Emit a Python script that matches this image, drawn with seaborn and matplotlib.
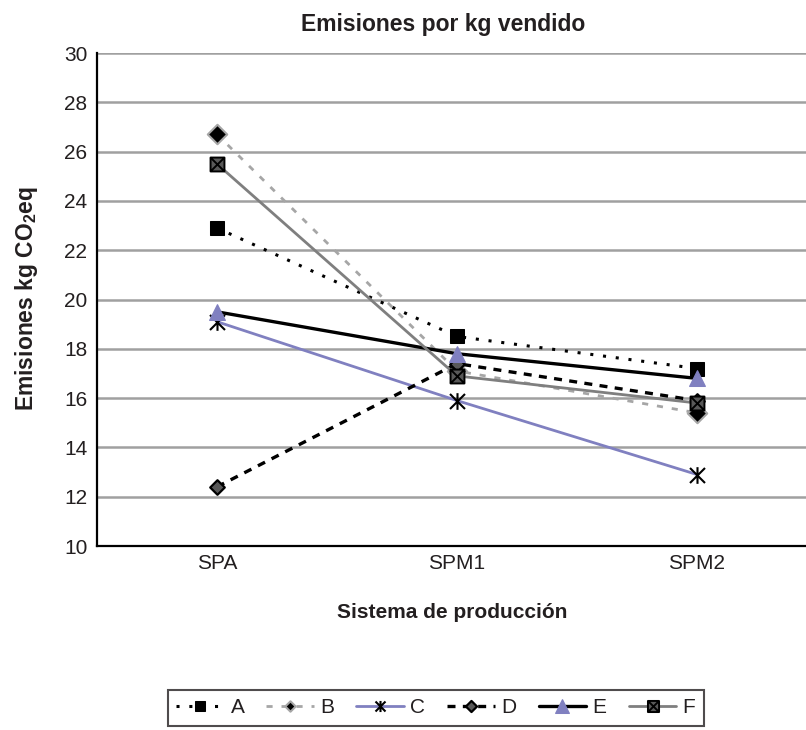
import numpy as np
import pandas as pd
import matplotlib
matplotlib.use("Agg")
import matplotlib.pyplot as plt
from matplotlib.path import Path
import seaborn as sns

categories = ["SPA", "SPM1", "SPM2"]
series_names = ["A", "B", "C", "D", "E", "F"]
A = [22.9, 18.5, 17.2]
B = [26.7, 17.1, 15.4]
C = [19.1, 15.9, 12.9]
D = [12.4, 17.4, 15.9]
E = [19.5, 17.8, 16.8]
F = [25.5, 16.9, 15.8]
yticks = [10, 12, 14, 16, 18, 20, 22, 24, 26, 28, 30]

title = "Emisiones por kg vendido"
xlabel = "Sistema de producción"
ylabel = "Emisiones kg CO$_\\mathregular{2}$eq"

sns.set_theme(style="white")
plt.rcParams["font.family"] = ["Liberation Sans", "DejaVu Sans"]
plt.rcParams["mathtext.fontset"] = "custom"
plt.rcParams["mathtext.rm"] = "Liberation Sans:bold"
plt.rcParams["mathtext.bf"] = "Liberation Sans:bold"

# custom markers
star_path = Path(
    [(0, 0.5), (0, -0.5), (-0.45, 0.45), (0.45, -0.45), (-0.45, -0.45), (0.45, 0.45)],
    [Path.MOVETO, Path.LINETO, Path.MOVETO, Path.LINETO, Path.MOVETO, Path.LINETO],
)
diamond_path = Path(
    [(0, 0.5), (0.5, 0), (0, -0.5), (-0.5, 0), (0, 0.5)],
    [Path.MOVETO, Path.LINETO, Path.LINETO, Path.LINETO, Path.CLOSEPOLY],
)
sqx_path = Path(
    [(-0.5, -0.5), (0.5, -0.5), (0.5, 0.5), (-0.5, 0.5), (-0.5, -0.5),
     (-0.5, -0.5), (0.5, 0.5), (-0.5, 0.5), (0.5, -0.5)],
    [Path.MOVETO, Path.LINETO, Path.LINETO, Path.LINETO, Path.CLOSEPOLY,
     Path.MOVETO, Path.LINETO, Path.MOVETO, Path.LINETO],
)

lav = "#8080C0"
styles = {
    "A": dict(color="black", linestyle=(0, (1, 3.2)), linewidth=2.2, marker="s",
              markersize=9.5, markerfacecolor="black", markeredgecolor="black"),
    "B": dict(color="#A6A6A6", linestyle=(0, (2.2, 3.2)), linewidth=2.0, marker=diamond_path,
              markersize=14, markerfacecolor="black", markeredgecolor="#A6A6A6", markeredgewidth=1.5),
    "C": dict(color=lav, linestyle="-", linewidth=2.0, marker=star_path,
              markersize=12, markerfacecolor="none", markeredgecolor="black", markeredgewidth=1.5),
    "D": dict(color="black", linestyle=(0, (2.4, 2.2)), linewidth=2.4, marker=diamond_path,
              markersize=10.5, markerfacecolor="#595959", markeredgecolor="black", markeredgewidth=1.6),
    "E": dict(color="black", linestyle="-", linewidth=2.4, marker="^",
              markersize=11.5, markerfacecolor=lav, markeredgecolor=lav),
    "F": dict(color="#7F7F7F", linestyle="-", linewidth=2.0, marker=sqx_path,
              markersize=10, markerfacecolor="#595959", markeredgecolor="black", markeredgewidth=1.4),
}
legend_msize = {"A": 7, "B": 7.5, "C": 8, "D": 8, "E": 9.5, "F": 8}

data = {"A": A, "B": B, "C": C, "D": D, "E": E, "F": F}

W, H = 806, 730
fig = plt.figure(figsize=(W / 100, H / 100), dpi=100)
left, right, top, bottom = 97, 817, 53, 546
ax = fig.add_axes([left / W, 1 - bottom / H, (right - left) / W, (bottom - top) / H])
ax.set_clip_on(True)

for name in series_names:
    df = pd.DataFrame({"cat": categories, "val": data[name]})
    sns.lineplot(data=df, x="cat", y="val", ax=ax, label=name, sort=False, **styles[name])

ax.set_xlim(-0.5, 2.5)
ax.set_ylim(10, 30)
ax.set_yticks(yticks)
ax.yaxis.grid(True, color="#A0A0A0", linewidth=1.8)
ax.xaxis.grid(False)
ax.set_axisbelow(True)
for s in ["top", "right"]:
    ax.spines[s].set_visible(False)
for s in ["left", "bottom"]:
    ax.spines[s].set_color("black")
    ax.spines[s].set_linewidth(1.6)
ax.tick_params(axis="y", length=0, labelsize=15, colors="#231F20", pad=7)
ax.tick_params(axis="x", length=0, labelsize=15, colors="#231F20", pad=6)
ax.set_xlabel("")
ax.set_ylabel("")

fig.text(443 / W, 1 - 25 / H, title, ha="center", va="center",
         fontsize=16.5, fontweight="bold", color="#231F20")
fig.text(452 / W, 1 - 612 / H, xlabel, ha="center", va="center",
         fontsize=15, fontweight="bold", color="#231F20")
fig.text(27 / W, 1 - 298 / H, ylabel, ha="center", va="center", rotation=90,
         fontsize=16.5, fontweight="bold", color="#231F20")

ax.get_legend().remove()
handles, labels = ax.get_legend_handles_labels()
leg = fig.legend(handles, labels, loc="upper left", bbox_to_anchor=(168 / W, 1 - 690 / H),
                 ncol=6, frameon=True, fontsize=15, handlelength=2.3, handletextpad=0.3,
                 columnspacing=1.05, borderpad=0.4, borderaxespad=0, fancybox=False)
leg.get_frame().set_edgecolor("#231F20")
leg.get_frame().set_linewidth(1.5)
for t in leg.get_texts():
    t.set_color("#231F20")
for h, name in zip(leg.legend_handles, series_names):
    h.set_markersize(legend_msize[name])

fig.savefig("out.png", dpi=100)
